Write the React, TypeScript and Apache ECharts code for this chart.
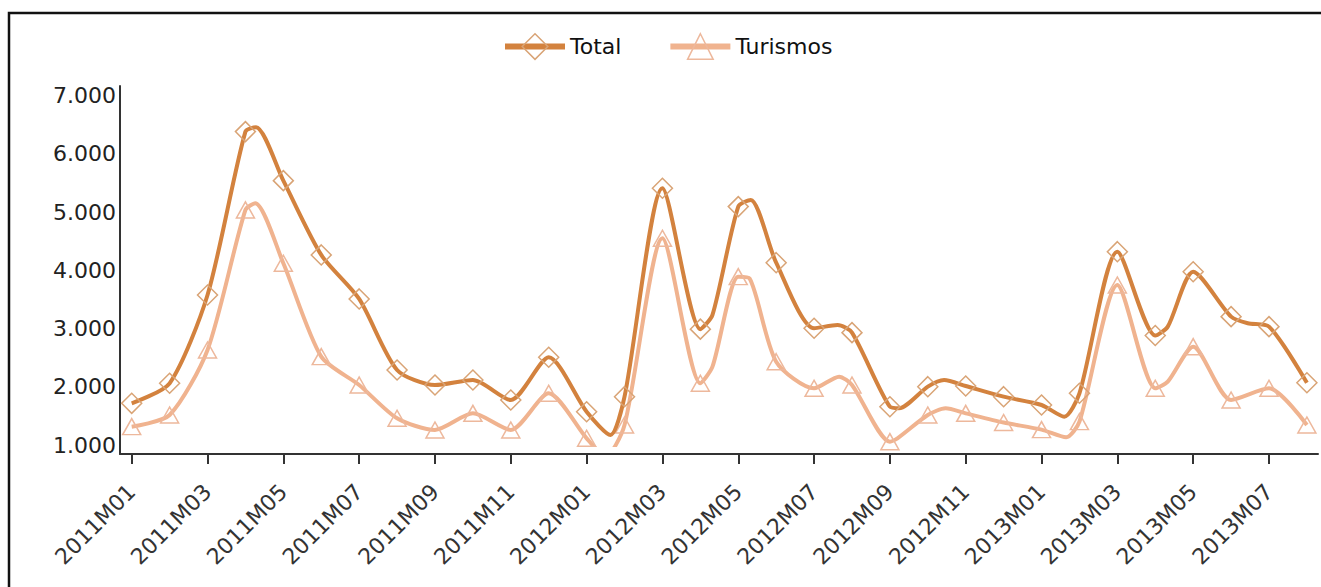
import React, { useEffect, useRef } from "react";
import * as echarts from "echarts";

const months = [
  "2011M01", "2011M02", "2011M03", "2011M04", "2011M05", "2011M06", "2011M07", "2011M08",
  "2011M09", "2011M10", "2011M11", "2011M12", "2012M01", "2012M02", "2012M03", "2012M04",
  "2012M05", "2012M06", "2012M07", "2012M08", "2012M09", "2012M10", "2012M11", "2012M12",
  "2013M01", "2013M02", "2013M03", "2013M04", "2013M05", "2013M06", "2013M07", "2013M08",
];

const total = [
  1716, 2060, 3577, 6383, 5541, 4265, 3509, 2289, 2030, 2117, 1773, 2507,
  1572, 1830, 5411, 2990, 5095, 4132, 3005, 2930, 1658, 2002, 2014, 1830,
  1687, 1888, 4321, 2880, 3977, 3205, 3033, 2070,
];

const turismos = [
  1315, 1515, 2632, 5038, 4122, 2518, 2031, 1459, 1258, 1544, 1258, 1888,
  1115, 1344, 4551, 2060, 3892, 2431, 1974, 2031, 1057, 1515, 1544, 1386,
  1264, 1401, 3749, 1974, 2689, 1773, 1974, 1344,
];

// bends of the drawn curves between monthly markers: [month position, value]
const totalBends: [number, number][] = [
  [3.28, 6459], [12.63, 1172], [15.32, 3234], [16.33, 5210], [18.62, 3062],
  [20.24, 1630], [21.43, 2117], [24.6, 1486], [27.33, 3033], [29.44, 3091],
];
const turismosBends: [number, number][] = [
  [3.26, 5153], [12.5, 800], [15.32, 2345], [16.3, 3860], [18.66, 2174],
  [20.2, 1115], [21.47, 1630], [24.65, 1132], [27.33, 2088],
];

const xTickValues = [0, 2, 4, 6, 8, 10, 12, 14, 16, 18, 20, 22, 24, 26, 28, 30];
const yTickValues = [1000, 2000, 3000, 4000, 5000, 6000, 7000];

const TOTAL_COLOR = "#D3823E";
const TOTAL_MARK = "#D9A476";
const TUR_COLOR = "#F0B38F";
const TUR_MARK = "#EDB89C";
const FONT = "DejaVu Sans";

function buildData(values: number[], bends: [number, number][]) {
  const pts: any[] = values.map((v, i) => ({ value: [i, v] }));
  bends.forEach(([x, v]) => pts.push({ value: [x, v], symbol: "none" }));
  pts.sort((a, b) => a.value[0] - b.value[0]);
  return pts;
}

function fmtThousands(v: number) {
  return String(Math.round(v)).replace(/\B(?=(\d{3})+(?!\d))/g, ".");
}

export default function App() {
  const ref = useRef<HTMLDivElement>(null);
  useEffect(() => {
    if (!ref.current) return;
    const chart = echarts.init(ref.current, null, { renderer: "svg" });
    chart.setOption({
      animation: false,
      backgroundColor: "#ffffff",
      textStyle: { fontFamily: FONT },
      graphic: [
        {
          type: "rect",
          shape: { x: 9, y: 13, width: 1400, height: 700 },
          style: { fill: "none", stroke: "#111", lineWidth: 2.5 },
          silent: true,
        },
      ],
      legend: {
        left: 497,
        top: 28,
        itemWidth: 60,
        itemHeight: 32,
        itemGap: 46,
        textStyle: { fontFamily: FONT, fontSize: 22, color: "#111" },
        lineStyle: { width: 6 },
        itemStyle: { borderWidth: 1.5 },
        data: ["Total", "Turismos"],
      },
      grid: [
        { left: 131.7, right: 14.1, top: 95.7, bottom: 142, containLabel: false },
        { left: 120, right: 3, top: 86, bottom: 133, containLabel: false },
      ],
      xAxis: [
        {
          type: "value",
          gridIndex: 0,
          min: 0,
          max: 31,
          offset: 9,
          axisLine: { show: false },
          splitLine: { show: false },
          axisTick: {
            show: true,
            length: 10,
            customValues: xTickValues,
            lineStyle: { color: "#333", width: 2 },
          },
          axisLabel: {
            rotate: 45,
            margin: 34,
            fontFamily: FONT,
            fontSize: 22,
            color: "#333",
            customValues: xTickValues,
            formatter: (v: number) => months[Math.round(v)] ?? "",
          },
        },
        {
          type: "value",
          gridIndex: 1,
          min: 0,
          max: 1,
          axisLine: { show: true, onZero: false, lineStyle: { color: "#333", width: 2 } },
          axisTick: { show: false },
          axisLabel: { show: false },
          splitLine: { show: false },
        },
      ],
      yAxis: [
        {
          type: "value",
          gridIndex: 0,
          min: 1000,
          max: 7000,
          interval: 1000,
          offset: 11.7,
          axisLine: { show: false },
          axisTick: { show: false },
          splitLine: { show: false },
          axisLabel: {
            margin: 4,
            fontFamily: FONT,
            fontSize: 22,
            color: "#222",
            customValues: yTickValues,
            formatter: (v: number) => fmtThousands(v),
          },
        },
        {
          type: "value",
          gridIndex: 1,
          min: 0,
          max: 1,
          axisLine: { show: true, onZero: false, lineStyle: { color: "#333", width: 2 } },
          axisTick: { show: false },
          axisLabel: { show: false },
          splitLine: { show: false },
        },
      ],
      series: [
        {
          name: "Total",
          type: "line",
          xAxisIndex: 0,
          yAxisIndex: 0,
          smooth: 0.25,
          symbol: "diamond",
          symbolSize: 20,
          z: 3,
          lineStyle: { color: TOTAL_COLOR, width: 4 },
          itemStyle: { color: "transparent", borderColor: TOTAL_MARK, borderWidth: 1.5 },
          emphasis: { disabled: true },
          data: buildData(total, totalBends),
        },
        {
          name: "Turismos",
          type: "line",
          xAxisIndex: 0,
          yAxisIndex: 0,
          smooth: 0.25,
          symbol: "triangle",
          symbolSize: [18, 16],
          z: 2,
          lineStyle: { color: TUR_COLOR, width: 4 },
          itemStyle: { color: "transparent", borderColor: TUR_MARK, borderWidth: 1.5 },
          emphasis: { disabled: true },
          data: buildData(turismos, turismosBends),
        },
      ],
    });
    return () => chart.dispose();
  }, []);
  return (
    <div
      ref={ref}
      style={{ position: "absolute", left: 0, top: 0, width: 1321, height: 587 }}
    />
  );
}
